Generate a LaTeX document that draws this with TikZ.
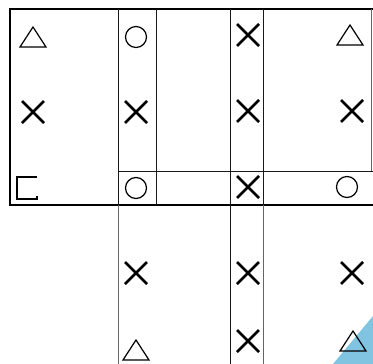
\documentclass[tikz,border=0pt]{standalone}
\definecolor{cornerblue}{RGB}{128,196,226}
\begin{document}
\begin{tikzpicture}[x=1pt,y=-1pt,
  frame/.style={line width=1.3pt,black},
  grid/.style={line width=1pt,black!90},
  faint/.style={line width=0.8pt,black!60},
  symline/.style={line width=1.2pt,black,line join=miter},
  crossline/.style={line width=2.8pt,black},
  tri/.pic={\draw[symline] (-13,10) -- (13,10) -- (0,-10) -- cycle;},
  crs/.pic={\draw[crossline] (-11,-11) -- (11,11) (-11,11) -- (11,-11);},
  circ/.pic={\draw[symline] (0,0) circle (10.5pt);},
  sqr/.pic={\draw[symline] (10,-11) -- (-10,-11) -- (-10,11) -- (10,11) -- (10,8);}
]
\useasboundingbox (0,0) rectangle (373,364);
\fill[white] (0,0) rectangle (373,364);
% blue corner
\fill[cornerblue] (373,316) -- (373,364) -- (333,364) -- cycle;
% frame
\draw[frame] (373,9) -- (10,9) -- (10,205) -- (373,205);
\draw[grid] (118,9) -- (118,205);
\draw[faint] (118,205) -- (118,364);
\draw[grid] (156,9) -- (156,205);
\draw[grid] (230,9) -- (230,364);
\draw[grid] (263,9) -- (263,205);
\draw[faint] (263,205) -- (263,364);
\draw[grid] (118,171) -- (373,171);
\draw[faint] (371,9) -- (371,171);
% symbols
\pic at (33,37) {tri};
\pic at (33,112) {crs};
\pic at (27,188) {sqr};
\pic at (136,37) {circ};
\pic at (136,112) {crs};
\pic at (136,188) {circ};
\pic at (136,273) {crs};
\pic at (136,350) {tri};
\pic at (248,35) {crs};
\pic at (248,111) {crs};
\pic at (248,187) {crs};
\pic at (248,273) {crs};
\pic at (248,341) {crs};
\pic at (350,35) {tri};
\pic at (352,111) {crs};
\pic at (347,187) {circ};
\pic at (352,273) {crs};
\pic at (353,341) {tri};
\end{tikzpicture}
\end{document}
